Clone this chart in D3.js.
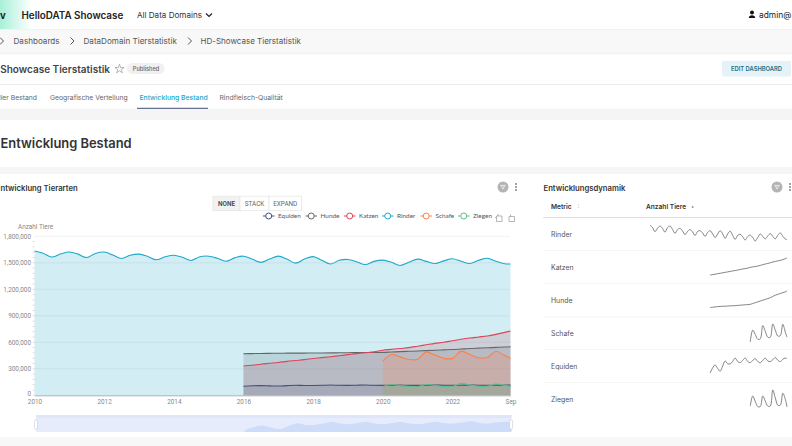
<!DOCTYPE html>
<html>
<head>
<meta charset="utf-8">
<script src="https://cdn.jsdelivr.net/npm/d3@7"></script>
<style>
html, body { margin: 0; padding: 0; background: #fff; overflow: hidden; }
svg { display: block; }
</style>
</head>
<body>
<svg id="page" width="792" height="446"></svg>
<script>
"use strict";

var quarters = [
	'2010-01','2010-04','2010-07','2010-10','2011-01','2011-04','2011-07','2011-10',
	'2012-01','2012-04','2012-07','2012-10','2013-01','2013-04','2013-07','2013-10',
	'2014-01','2014-04','2014-07','2014-10','2015-01','2015-04','2015-07','2015-10',
	'2016-01','2016-04','2016-07','2016-10','2017-01','2017-04','2017-07','2017-10',
	'2018-01','2018-04','2018-07','2018-10','2019-01','2019-04','2019-07','2019-10',
	'2020-01','2020-04','2020-07','2020-10','2021-01','2021-04','2021-07','2021-10',
	'2022-01','2022-04','2022-07','2022-10','2023-01','2023-04','2023-07','2023-09'
];

// values in thousands, each series ends at the last quarter
var equiden = [103,107.5,110,107,104.5,109,113.5,111,111,113,116,113,112,114,116,113,
	112,114,115.5,113,112,114,116,113.5,113,114.5,116.5,114,113,115,116,115.5];
var hunde = [471,472,474,475,476,477,477,478,479,479,480,481,482,483,484,485,
	486,490,494,498,502,506,510,514,518,524,530,534,538,542,546,550];
var katzen = [332,340,352,362,372,384,394,404,416,426,436,448,460,472,482,492,
	510,520,530,540,556,572,588,600,618,634,648,660,672,690,712,728];
var rinder = [1633,1608,1565,1600,1622,1598,1560,1606,1622,1588,1548,1586,1598,1572,1535,1568,
	1586,1562,1526,1568,1575,1552,1517,1556,1575,1542,1505,1542,1575,1542,1496,1542,
	1570,1528,1486,1528,1538,1512,1480,1516,1530,1506,1470,1506,1542,1516,1492,1522,
	1545,1518,1492,1528,1552,1518,1490,1487];
var schafe = [388,462,435,405,408,490,455,418,418,500,462,425,428,498,450,418];
var ziegen = [100,122,110,99,99,122,111,100,100,135,118,102,102,128,115,98];

var seriesNames = ['Equiden','Hunde','Katzen','Rinder','Schafe','Ziegen'];
var seriesValues = [equiden, hunde, katzen, rinder, schafe, ziegen];
var seriesColors = ['#454E7C','#666666','#E04355','#1FA8C9','#FF7F44','#5AC189'];
var legendX = [263, 305.5, 344, 382, 420.5, 458];

var yTicks = [0,300,600,900,1200,1500,1800];
var xTickLabels = ['2010','2012','2014','2016','2018','2020','2022'];

var rowNames = ['Rinder','Katzen','Hunde','Schafe','Equiden','Ziegen'];
var rowLines = [217.3,250.3,283.3,316.7,349.3,382.3];
var rowSpark = [[225,241],[258,275],[291,307.5],[324,342],[357.5,373],[390,407]];

var tabNames = ['Geografische Verteilung','Entwicklung Bestand','Rindfleisch-Qualität'];
var tabX = [50,139.5,219.5];

var svg = d3.select('#page');
var parseQ = d3.utcParse('%Y-%m');
var dates = quarters.map(parseQ);
var UI = 'Inter, "Open Sans", sans-serif';

function label(x, y, str, size, color, weight, anchor, family)
{
	return svg.append('text')
		.attr('x', x).attr('y', y)
		.attr('font-family', family || UI)
		.attr('font-size', size)
		.attr('font-weight', weight || 400)
		.attr('fill', color)
		.attr('text-anchor', anchor || 'start')
		.text(str);
}
function band(x, y, w, h, fill)
{
	return svg.append('rect').attr('x', x).attr('y', y).attr('width', w).attr('height', h).attr('fill', fill);
}
function chevron(x, y, s)
{
	svg.append('path').attr('d', d3.line()([[x, y - s], [x + s, y], [x, y + s]]))
		.attr('fill', 'none').attr('stroke', '#555').attr('stroke-width', 1);
}
// pair every series with the dates it covers (aligned to the end)
function points(values)
{
	var off = dates.length - values.length;
	return values.map(function(v, i){ return { date: dates[off + i], value: v }; });
}

//---- page chrome ----
var logoGrad = svg.append('defs').append('linearGradient').attr('id', 'logo');
logoGrad.append('stop').attr('offset', 0).attr('stop-color', '#a8f0d8');
logoGrad.append('stop').attr('offset', 1).attr('stop-color', '#ffffff');
band(0, 0, 32, 29, 'url(#logo)');
band(0, 29, 792, 25, '#f8f8f8');
band(0, 108.5, 792, 11.5, '#f5f5f5');
band(0, 167, 792, 7, '#f5f5f5');
band(0, 437, 792, 9, '#f7f7f7');
band(0, 84, 792, 0.8, '#e6e6e6');
band(0, 53.5, 792, 0.6, '#ececec');
band(0, 29, 792, 0.6, '#eeeeee');

label(0, 18.5, 'v', 9.5, '#1c1c1c', 700);
label(21.5, 19, 'HelloDATA Showcase', 9.85, '#222', 600);
label(137, 18, 'All Data Domains', 8.1, '#333', 400);
svg.append('path').attr('d', d3.line()([[206,13.5],[209,16.5],[212,13.5]]))
	.attr('fill', 'none').attr('stroke', '#222').attr('stroke-width', 1.2);
svg.append('circle').attr('cx', 752).attr('cy', 12.5).attr('r', 2).attr('fill', '#111');
svg.append('path').attr('d', 'M748.8 18 Q749 15.3 752 15.3 Q755 15.3 755.2 18 Z').attr('fill', '#111');
label(759, 18, 'admin@', 8.4, '#222', 400);

chevron(0, 41, 3.5);
label(13.5, 44, 'Dashboards', 8.1, '#555');
chevron(70.5, 41, 3.5);
label(83.5, 44, 'DataDomain Tierstatistik', 8.1, '#555');
chevron(188, 41, 3.5);
label(200.5, 44, 'HD-Showcase Tierstatistik', 8.0, '#555');

label(110, 73, 'Showcase Tierstatistik', 10, '#444', 600, 'end');
svg.append('path').attr('transform', 'translate(119.5,69)')
	.attr('d', d3.symbol(d3.symbolStar, 26)()).attr('fill', 'none').attr('stroke', '#999').attr('stroke-width', 0.7);
svg.append('rect').attr('x', 127).attr('y', 63).attr('width', 37.5).attr('height', 11).attr('rx', 5.5).attr('fill', '#f0f0f0');
label(146, 71, 'Published', 5.6, '#666', 500, 'middle');
svg.append('rect').attr('x', 722).attr('y', 61).attr('width', 69).attr('height', 15.5).attr('rx', 1.5).attr('fill', '#e5f3f8');
label(756.5, 71, 'EDIT DASHBOARD', 5.8, '#1b6f85', 600, 'middle');

label(37, 100, 'ller Bestand', 6.8, '#666', 400, 'end');
tabNames.forEach(function(d, i){
	label(tabX[i], 100, d, 6.8, i == 1 ? '#20a7c9' : '#666', i == 1 ? 500 : 400);
});
band(137, 107.8, 71, 1, '#454E7C');

label(0.5, 148, 'Entwicklung Bestand', 12.9, '#333', 600);

//---- main chart ----
label(0.5, 191, 'ntwicklung Tierarten', 7.7, '#333', 600);
label(543.5, 191, 'Entwicklungsdynamik', 7.7, '#333', 600);

[[503, 516], [777, 790]].forEach(function(p){
	svg.append('circle').attr('cx', p[0]).attr('cy', 187).attr('r', 5.5).attr('fill', '#b4b4b4');
	svg.append('path').attr('d', 'M' + (p[0] - 3) + ' 185.4H' + (p[0] + 3) + 'M' + (p[0] - 2) + ' 187H' + (p[0] + 2) + 'M' + (p[0] - 1) + ' 188.6H' + (p[0] + 1))
		.attr('stroke', '#fff').attr('stroke-width', 0.7);
	[184, 187, 190].forEach(function(y){
		svg.append('circle').attr('cx', p[1]).attr('cy', y).attr('r', 0.9).attr('fill', '#777');
	});
});

// NONE / STACK / EXPAND
var toggleEdges = [213, 240, 269, 301.5];
['NONE','STACK','EXPAND'].forEach(function(d, i){
	svg.append('rect').attr('x', toggleEdges[i]).attr('y', 196.2)
		.attr('width', toggleEdges[i + 1] - toggleEdges[i]).attr('height', 14.5)
		.attr('fill', i == 0 ? '#f2f2f2' : '#fff').attr('stroke', '#e3e3e3').attr('stroke-width', 0.7);
	label((toggleEdges[i] + toggleEdges[i + 1]) / 2, 205.8, d, 6.4, i == 0 ? '#444' : '#666', i == 0 ? 600 : 400, 'middle', 'Roboto, sans-serif');
});

// legend
seriesNames.forEach(function(d, i){
	var lx = legendX[i];
	svg.append('line').attr('x1', lx).attr('x2', lx + 11.5).attr('y1', 216).attr('y2', 216)
		.attr('stroke', seriesColors[i]).attr('stroke-width', 1);
	svg.append('circle').attr('cx', lx + 5.7).attr('cy', 216).attr('r', 3)
		.attr('fill', '#fff').attr('stroke', seriesColors[i]).attr('stroke-width', 1);
	label(lx + 15, 218.3, d, 6.4, '#555', 400, 'start', 'Lato, sans-serif');
});

// toolbox icons (zoom, zoom back)
['M496.5 216h5.5v5.5h-5.5zM498 214v2M495 217.5h1.5',
 'M509 216.5h5.5v5h-5.5zM510.5 214.5v2'].forEach(function(d){
	svg.append('path').attr('d', d).attr('fill', 'none').attr('stroke', '#999').attr('stroke-width', 0.7);
});

var x = d3.scaleUtc()
	.domain([d3.min(dates), d3.max(dates)])
	.range([34.5, 510.5]);
var y = d3.scaleLinear().domain([0, 1800]).range([395.3, 236.3]);

var grid = svg.append('g');
grid.selectAll('line').data(yTicks.slice(1)).enter().append('line')
	.attr('x1', x.range()[0]).attr('x2', x.range()[1])
	.attr('y1', function(d){ return y(d); }).attr('y2', function(d){ return y(d); })
	.attr('stroke', '#eeeeee').attr('stroke-width', 0.8);

var area = d3.area()
	.x(function(d){ return x(d.date); })
	.y0(y(0))
	.y1(function(d){ return y(d.value); })
	.curve(d3.curveCatmullRom.alpha(0.5));
var line = d3.line()
	.x(function(d){ return x(d.date); })
	.y(function(d){ return y(d.value); })
	.curve(d3.curveCatmullRom.alpha(0.5));

seriesValues.forEach(function(vals, i){
	svg.append('path').datum(points(vals)).attr('d', area)
		.attr('fill', seriesColors[i]).attr('fill-opacity', 0.2);
});
seriesValues.forEach(function(vals, i){
	svg.append('path').datum(points(vals)).attr('d', line)
		.attr('fill', 'none').attr('stroke', seriesColors[i]).attr('stroke-width', 1.1);
});

// axes
var yAxis = svg.append('g').attr('transform', 'translate(34.5,0)')
	.call(d3.axisLeft(y).tickValues(yTicks).tickSize(0).tickPadding(3.5)
		.tickFormat(function(d){ return d3.format(',')(d * 1000); }));
yAxis.select('.domain').remove();
yAxis.selectAll('text').attr('font-family', 'Roboto, sans-serif').attr('font-size', 6.4).attr('fill', '#888');
yAxis.selectAll('.tick').filter(function(d){ return d == 0; }).select('text').attr('dy', '0.1em');
var minor = d3.range(0, 1800, 60);
svg.append('g').selectAll('line').data(minor).enter().append('line')
	.attr('x1', 32.8).attr('x2', 34.5)
	.attr('y1', function(d){ return y(d); }).attr('y2', function(d){ return y(d); })
	.attr('stroke', '#bbb').attr('stroke-width', 0.6);
label(18, 228.5, 'Anzahl Tiere', 6.4, '#888', 400, 'start', 'Roboto, sans-serif');

var tickDates = xTickLabels.map(function(d){ return d3.utcParse('%Y')(d); }).concat([d3.max(dates)]);
var xAxis = svg.append('g').attr('transform', 'translate(0,395.3)')
	.call(d3.axisBottom(x).tickValues(tickDates).tickSize(0).tickPadding(4.5)
		.tickFormat(function(d, i){ return i < xTickLabels.length ? xTickLabels[i] : 'Sep'; }));
xAxis.select('.domain').attr('stroke', '#a0a4ad').attr('stroke-width', 0.9);
xAxis.selectAll('text').attr('font-family', 'Roboto, sans-serif').attr('font-size', 6.4).attr('fill', '#888');

//---- data zoom slider ----
var sliderX = d3.scaleUtc().domain(x.domain()).range([36, 511.5]);
var sliderY = d3.scaleLinear().domain([100, 117]).range([432, 421]);
band(36, 415, 475.5, 17, '#e6ecfc');
band(36, 415, 475.5, 3, '#dfe6f8');
svg.append('path').datum(points(equiden))
	.attr('d', d3.area()
		.x(function(d){ return sliderX(d.date); })
		.y0(432)
		.y1(function(d){ return sliderY(d.value); })
		.curve(d3.curveCatmullRom.alpha(0.5)))
	.attr('fill', '#cddcf8');
[36, 511].forEach(function(hx){
	svg.append('rect').attr('x', hx - 1.5).attr('y', 420).attr('width', 3).attr('height', 9).attr('rx', 1)
		.attr('fill', '#fff').attr('stroke', '#c8ccd4').attr('stroke-width', 0.6);
});

//---- table ----
label(551, 209, 'Metric', 6.6, '#333', 600);
label(646, 209, 'Anzahl Tiere', 6.6, '#333', 600);
svg.append('path').attr('d', 'M691.5 207.5l1.2 -1.6 1.2 1.6z').attr('fill', '#555');
svg.append('path').attr('d', 'M577.5 205.5l1 -1.2 1 1.2zM577.5 207l1 1.2 1 -1.2z').attr('fill', '#ccc');

var sparkX = d3.scaleUtc().domain(x.domain()).range([650, 787]);
rowNames.forEach(function(name, r){
	band(543, rowLines[r], 249, r == 0 ? 0.8 : 0.6, r == 0 ? '#d4d4d4' : '#eeeeee');
	label(551, rowLines[r] + 19.5, name, 6.9, '#555');

	var vals = seriesValues[seriesNames.indexOf(name)];
	var sparkY = d3.scaleLinear().domain(d3.extent(vals)).range([rowSpark[r][1], rowSpark[r][0]]);
	svg.append('path').datum(points(vals))
		.attr('d', d3.line()
			.x(function(d){ return sparkX(d.date); })
			.y(function(d){ return sparkY(d.value); })
			.curve(d3.curveCatmullRom.alpha(0.5)))
		.attr('fill', 'none').attr('stroke', '#666').attr('stroke-width', 0.8);
});
</script>
</body>
</html>
